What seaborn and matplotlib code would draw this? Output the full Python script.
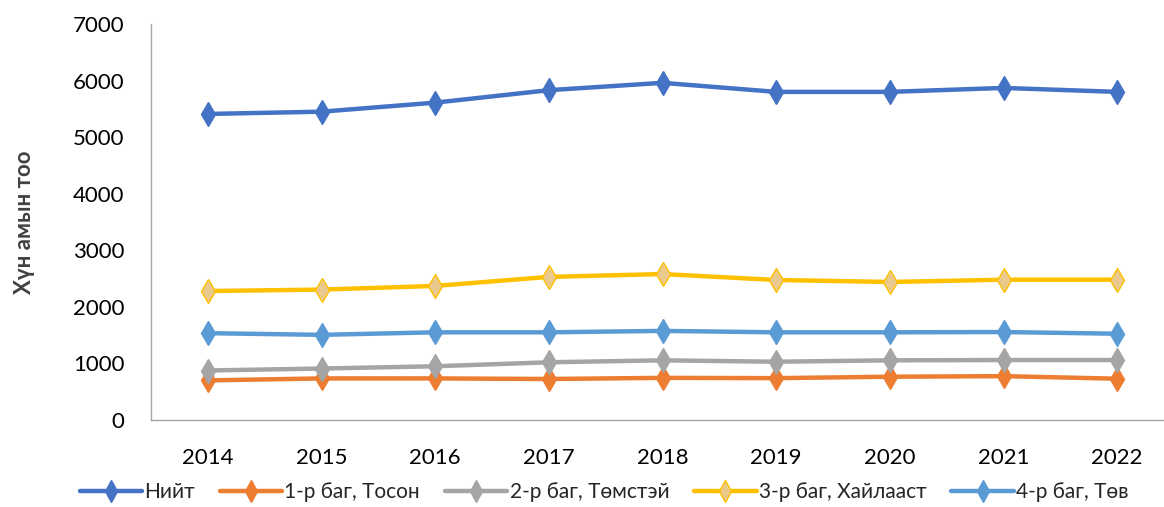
import matplotlib
matplotlib.use("Agg")
import matplotlib.pyplot as plt
import seaborn as sns
import pandas as pd

years = [2014, 2015, 2016, 2017, 2018, 2019, 2020, 2021, 2022]
niit = [5410, 5450, 5610, 5830, 5960, 5800, 5800, 5870, 5800]
bag1 = [700, 735, 735, 725, 745, 740, 765, 775, 730]
bag2 = [875, 910, 950, 1020, 1055, 1030, 1055, 1060, 1060]
bag3 = [2280, 2305, 2370, 2530, 2580, 2475, 2440, 2480, 2480]
bag4 = [1535, 1505, 1550, 1550, 1575, 1550, 1550, 1555, 1525]
series_names = ["Нийт", "1-р баг, Тосон", "2-р баг, Төмстэй", "3-р баг, Хайлааст", "4-р баг, Төв"]
ylabel = "Хүн амын тоо"

series_vals = [niit, bag1, bag2, bag3, bag4]
colors = ["#4472C4", "#ED7D31", "#A5A5A5", "#FFC000", "#5B9BD5"]
faces = ["#4472C4", "#ED7D31", "#A5A5A5", "#E9C98C", "#5B9BD5"]

sns.set_style("white")
plt.rcParams["font.family"] = ["Lato", "DejaVu Sans"]

fig = plt.figure(figsize=(11.64, 5.07), dpi=100)
ax = fig.add_axes([151 / 1164, (507 - 420) / 507, 1023 / 1164, 396 / 507])

for name, vals, c, fc in zip(series_names, series_vals, colors, faces):
    df = pd.DataFrame({"year": years, "value": vals})
    sns.lineplot(data=df, x="year", y="value", ax=ax, color=c, linewidth=3.2,
                 marker="d", markersize=12, markerfacecolor=fc, markeredgecolor=c,
                 markeredgewidth=1, label=name)

ax.set_xlim(2013.5, 2022.5)
ax.set_ylim(0, 7000)
ax.set_xticks(years)
ax.set_xticklabels([str(y) for y in years])
ax.set_yticks(range(0, 7001, 1000))
ax.tick_params(axis="both", length=0, labelsize=16, colors="black")
ax.tick_params(axis="x", pad=20)
ax.tick_params(axis="y", pad=19)
ax.set_xlabel("")
ax.set_ylabel(ylabel, fontsize=16, fontweight="bold", color="#404040", labelpad=27)
for s in ["top", "right"]:
    ax.spines[s].set_visible(False)
for s in ["left", "bottom"]:
    ax.spines[s].set_color("#A6A6A6")
    ax.spines[s].set_linewidth(1)

leg = ax.legend(loc="center", bbox_to_anchor=(604 / 1164, (507 - 492) / 507), bbox_transform=fig.transFigure,
                ncol=5, frameon=False, fontsize=15, handlelength=3.0, handletextpad=0.1,
                columnspacing=1.2, markerscale=0.9)

fig.savefig("out.png", dpi=100)
